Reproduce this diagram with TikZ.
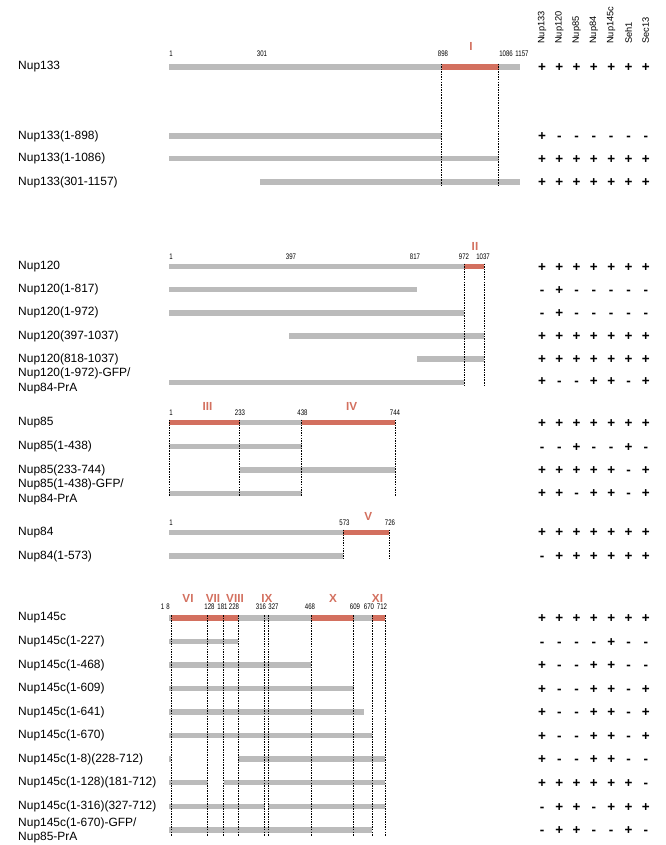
\documentclass[tikz,border=0pt]{standalone}
\usepackage{fontspec}
\setmainfont{Liberation Sans}
\newfontfamily\narrowsans[FakeStretch=0.75]{Liberation Sans}
\usepackage{xcolor}
\definecolor{domainred}{HTML}{D3705F}
\definecolor{bargray}{HTML}{BBBBBB}
\usepackage{tikz}

\begin{document}
\begin{tikzpicture}[
  x=0.3mm, y=-0.3mm,
  declare function={aa(\n)=169+(\n-1)*0.304;},
  lbl/.style={anchor=west, inner sep=0pt, align=left, font=\fontsize{10.2}{12.5}\selectfont},
  head/.style={rotate=90, anchor=west, inner sep=0pt, font=\fontsize{7.9}{9}\selectfont},
  num/.style={inner sep=0pt, font=\narrowsans\fontsize{6.9}{8}\selectfont},
  dom/.style={inner sep=0pt, text=domainred, font=\bfseries\fontsize{10}{12}\selectfont},
  sign/.style={anchor=base, inner sep=0pt, font=\bfseries\fontsize{11.5}{12}\selectfont},
  gbar/.style={bargray, line width=1.7mm},
  rbar/.style={domainred, line width=1.7mm},
  cut/.style={black, line width=0.6pt, dash pattern=on 1.3pt off 0.9pt},
]
\useasboundingbox (0,0) rectangle (665,845);

% Spaltenkoepfe
\foreach \h [count=\c from 0] in {Nup133,Nup120,Nup85,Nup84,Nup145c,Seh1,Sec13}
  \node[head] (h\c) at ({542+17.3*\c},44) {\h};

% Nup133
\node[lbl] (l133) at (18,66.7) {Nup133};
\node[lbl] (l133a) at (18,136) {Nup133(1-898)};
\node[lbl] (l133b) at (18,158.5) {Nup133(1-1086)};
\node[lbl] (l133c) at (18,182) {Nup133(301-1157)};
\draw[gbar] ({aa(1)},66.7) -- ({aa(1157)},66.7);
\draw[rbar] ({aa(898)},66.7) -- ({aa(1086)},66.7);
\draw[gbar] ({aa(1)},136) -- ({aa(898)},136);
\draw[gbar] ({aa(1)},158.5) -- ({aa(1086)},158.5);
\draw[gbar] ({aa(301)},182) -- ({aa(1157)},182);
\foreach \p in {898,1086}
  \draw[cut] ({aa(\p)},63.5) -- ({aa(\p)},186);
\node[num] (n133-1) at (171,54) {1};
\node[num] (n133-301) at (262,54) {301};
\node[num] (n133-898) at (443,54) {898};
\node[num] (n133-1086) at (506,54) {1086};
\node[num] (n133-1157) at (522,54) {1157};
\node[dom] (dI) at (471,46) {I};

% Nup120
\node[lbl] (l120) at (18,266.5) {Nup120};
\node[lbl] (l120a) at (18,289.5) {Nup120(1-817)};
\node[lbl] (l120b) at (18,312.7) {Nup120(1-972)};
\node[lbl] (l120c) at (18,336) {Nup120(397-1037)};
\node[lbl] (l120d) at (18,359) {Nup120(818-1037)};
\node[lbl] (l120e) at (18,381) {Nup120(1-972)-GFP/\\Nup84-PrA};
\draw[gbar] ({aa(1)},266.5) -- ({aa(1037)},266.5);
\draw[rbar] ({aa(972)},266.5) -- ({aa(1037)},266.5);
\draw[gbar] ({aa(1)},289.5) -- ({aa(817)},289.5);
\draw[gbar] ({aa(1)},312.7) -- ({aa(972)},312.7);
\draw[gbar] ({aa(397)},336) -- ({aa(1037)},336);
\draw[gbar] ({aa(818)},359) -- ({aa(1037)},359);
\draw[gbar] ({aa(1)},382.5) -- ({aa(972)},382.5);
\foreach \p in {972,1037}
  \draw[cut] ({aa(\p)},263.5) -- ({aa(\p)},385.5);
\node[num] (n120-1) at (171,256.5) {1};
\node[num] (n120-397) at (291,256.5) {397};
\node[num] (n120-817) at (415,256.5) {817};
\node[num] (n120-972) at (464,256.5) {972};
\node[num] (n120-1037) at (483,256.5) {1037};
\node[dom] (dII) at (475,246) {II};

% Nup85
\node[lbl] (l85) at (18,422.5) {Nup85};
\node[lbl] (l85a) at (18,446.5) {Nup85(1-438)};
\node[lbl] (l85b) at (18,470) {Nup85(233-744)};
\node[lbl] (l85c) at (18,492) {Nup85(1-438)-GFP/\\Nup84-PrA};
\draw[gbar] ({aa(1)},422.5) -- ({aa(744)},422.5);
\draw[rbar] ({aa(1)},422.5) -- ({aa(233)},422.5);
\draw[rbar] ({aa(438)},422.5) -- ({aa(744)},422.5);
\draw[gbar] ({aa(1)},446.5) -- ({aa(438)},446.5);
\draw[gbar] ({aa(233)},470) -- ({aa(744)},470);
\draw[gbar] ({aa(1)},493.5) -- ({aa(438)},493.5);
\foreach \p in {1,233,438,744}
  \draw[cut] ({aa(\p)},419.5) -- ({aa(\p)},496.5);
\node[num] (n85-1) at (171,413) {1};
\node[num] (n85-233) at (240,413) {233};
\node[num] (n85-438) at (302.5,413) {438};
\node[num] (n85-744) at (395,413) {744};
\node[dom] (dIII) at (207.5,406.5) {III};
\node[dom] (dIV) at (351.7,406.5) {IV};

% Nup84
\node[lbl] (l84) at (18,532.5) {Nup84};
\node[lbl] (l84a) at (18,556) {Nup84(1-573)};
\draw[gbar] ({aa(1)},532.5) -- ({aa(726)},532.5);
\draw[rbar] ({aa(573)},532.5) -- ({aa(726)},532.5);
\draw[gbar] ({aa(1)},556) -- ({aa(573)},556);
\foreach \p in {573,726}
  \draw[cut] ({aa(\p)},529.5) -- ({aa(\p)},559.5);
\node[num] (n84-1) at (171,523) {1};
\node[num] (n84-573) at (344.5,523) {573};
\node[num] (n84-726) at (390,523) {726};
\node[dom] (dV) at (368.3,516.5) {V};

% Nup145c
\node[lbl] (l145) at (18,618) {Nup145c};
\node[lbl] (l145a) at (18,641.5) {Nup145c(1-227)};
\node[lbl] (l145b) at (18,665) {Nup145c(1-468)};
\node[lbl] (l145c) at (18,688.5) {Nup145c(1-609)};
\node[lbl] (l145d) at (18,712) {Nup145c(1-641)};
\node[lbl] (l145e) at (18,735.5) {Nup145c(1-670)};
\node[lbl] (l145f) at (18,759) {Nup145c(1-8)(228-712)};
\node[lbl] (l145g) at (18,782.5) {Nup145c(1-128)(181-712)};
\node[lbl] (l145h) at (18,806.5) {Nup145c(1-316)(327-712)};
\node[lbl] (l145i) at (18,830.5) {Nup145c(1-670)-GFP/\\Nup85-PrA};
\draw[gbar] ({aa(1)},618) -- ({aa(712)},618);
\draw[rbar] ({aa(8)},618) -- ({aa(228)},618);
\draw[rbar] ({aa(468)},618) -- ({aa(609)},618);
\draw[rbar] ({aa(670)},618) -- ({aa(712)},618);
\draw[gbar] ({aa(1)},641.5) -- ({aa(227)},641.5);
\draw[gbar] ({aa(1)},665) -- ({aa(468)},665);
\draw[gbar] ({aa(1)},688.5) -- ({aa(609)},688.5);
\draw[gbar] ({aa(1)},712) -- ({aa(641)},712);
\draw[gbar] ({aa(1)},735.5) -- ({aa(670)},735.5);
\draw[gbar] ({aa(1)},759) -- ({aa(8)},759);
\draw[gbar] ({aa(228)},759) -- ({aa(712)},759);
\draw[gbar] ({aa(1)},782.5) -- ({aa(128)},782.5);
\draw[gbar] ({aa(181)},782.5) -- ({aa(712)},782.5);
\draw[gbar] ({aa(1)},806.5) -- ({aa(316)},806.5);
\draw[gbar] ({aa(327)},806.5) -- ({aa(712)},806.5);
\draw[gbar] ({aa(1)},830) -- ({aa(670)},830);
\foreach \p in {8,128,181,228,316,327,468,609,670,712}
  \draw[cut] ({aa(\p)},615) -- ({aa(\p)},836);
\node[num] (n145-1) at (162.5,607) {1};
\node[num] (n145-8) at (168,607) {8};
\node[num] (n145-128) at (209.5,607) {128};
\node[num] (n145-181) at (222.5,607) {181};
\node[num] (n145-228) at (234,607) {228};
\node[num] (n145-316) at (261,607) {316};
\node[num] (n145-327) at (273.5,607) {327};
\node[num] (n145-468) at (310,607) {468};
\node[num] (n145-609) at (355,607) {609};
\node[num] (n145-670) at (369,607) {670};
\node[num] (n145-712) at (382,607) {712};
\node[dom] (dVI) at (188,598) {VI};
\node[dom] (dVII) at (213,598) {VII};
\node[dom] (dVIII) at (235,598) {VIII};
\node[dom] (dIX) at (267,598) {IX};
\node[dom] (dX) at (333,598) {X};
\node[dom] (dXI) at (377.5,598) {XI};

% Interaktionstabelle
\foreach \y/\row [count=\r] in {
  66.7/{+,+,+,+,+,+,+}, 136/{+,-,-,-,-,-,-}, 158.5/{+,+,+,+,+,+,+}, 182/{+,+,+,+,+,+,+},
  266.5/{+,+,+,+,+,+,+}, 289.5/{-,+,-,-,-,-,-}, 312.7/{-,+,-,-,-,-,-}, 336/{+,+,+,+,+,+,+},
  359/{+,+,+,+,+,+,+}, 381/{+,-,-,+,+,-,+},
  422.5/{+,+,+,+,+,+,+}, 446.5/{-,-,+,-,-,+,-}, 470/{+,+,+,+,+,-,+}, 493/{+,+,-,+,+,-,+},
  532/{+,+,+,+,+,+,+}, 555.5/{-,+,+,+,+,+,+},
  618/{+,+,+,+,+,+,+}, 641.5/{-,-,-,-,+,-,-}, 665/{+,-,-,+,+,-,-}, 688.5/{+,-,-,+,+,-,+},
  712/{+,-,-,+,+,-,+}, 735.5/{+,-,-,+,+,-,+}, 759/{+,-,-,+,+,-,-}, 782.5/{+,+,+,+,+,+,-},
  806.5/{-,+,+,-,+,+,+}, 830/{-,+,+,-,-,+,-}}
  \foreach \s [count=\c from 0] in \row
    \node[sign] (s\r-\c) at ({542+17.3*\c},\y+4.6) {\s};

\end{tikzpicture}
\end{document}
